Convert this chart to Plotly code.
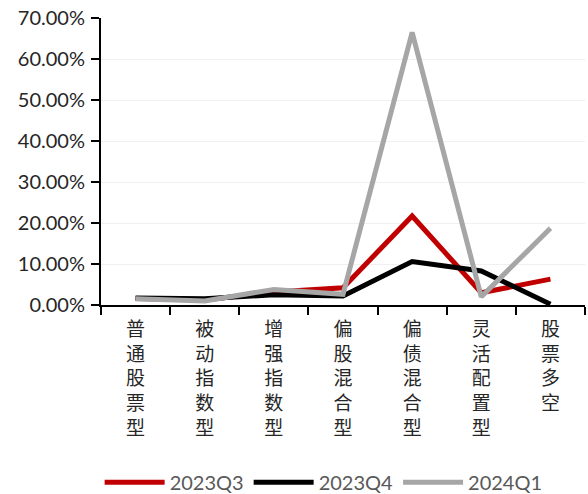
import plotly.graph_objects as go

categories = ["普通股票型", "被动指数型", "增强指数型", "偏股混合型", "偏债混合型", "灵活配置型", "股票多空"]
q3_2023 = [1.6, 1.2, 3.2, 4.2, 21.7, 3.0, 6.3]
q4_2023 = [1.7, 1.5, 2.5, 2.2, 10.6, 8.3, 0.2]
q1_2024 = [1.5, 1.0, 3.8, 2.6, 66.5, 2.0, 18.7]

series = [
    ("2023Q3", q3_2023, "#c00000"),
    ("2023Q4", q4_2023, "#000000"),
    ("2024Q1", q1_2024, "#a6a6a6"),
]

# vertical category labels: one character per line
vertical_labels = ["<br>".join(list(c)) for c in categories]

fig = go.Figure()
for name, vals, color in series:
    fig.add_trace(go.Scatter(
        x=vertical_labels,
        y=[v / 100 for v in vals],
        mode="lines",
        name=name,
        line=dict(color=color, width=5),
    ))

fig.update_layout(
    width=588,
    height=494,
    margin=dict(l=101, r=3, t=18, b=189, autoexpand=False),
    paper_bgcolor="white",
    plot_bgcolor="white",
    font=dict(family="Lato, 'Noto Sans CJK SC', sans-serif", color="#262626", size=20),
    showlegend=True,
    legend=dict(
        orientation="h",
        x=0.46,
        xanchor="center",
        yref="container",
        y=0.024,
        yanchor="middle",
        font=dict(size=20, color="#595959"),
        itemwidth=60,
        tracegroupgap=0,
    ),
)

fig.update_xaxes(
    type="category",
    range=[-0.5, len(categories) - 0.5],
    tickson="boundaries",
    ticks="outside",
    ticklen=8,
    tickwidth=2,
    tickcolor="black",
    showline=True,
    linecolor="black",
    linewidth=2,
    showgrid=False,
    automargin=False,
    ticklabelstandoff=6,
    tickfont=dict(family="'Noto Sans CJK SC', sans-serif", size=19, color="#262626"),
    tickangle=0,
)

fig.update_yaxes(
    range=[0, 0.7],
    dtick=0.1,
    tickformat=".2%",
    ticks="outside",
    ticklen=8,
    tickwidth=2,
    tickcolor="black",
    showline=True,
    linecolor="black",
    linewidth=2,
    showgrid=True,
    gridcolor="#f0f0f0",
    gridwidth=1,
    zeroline=False,
    automargin=False,
    ticklabelstandoff=2,
    tickfont=dict(size=20, color="#262626"),
)

fig.write_html("out.html")
